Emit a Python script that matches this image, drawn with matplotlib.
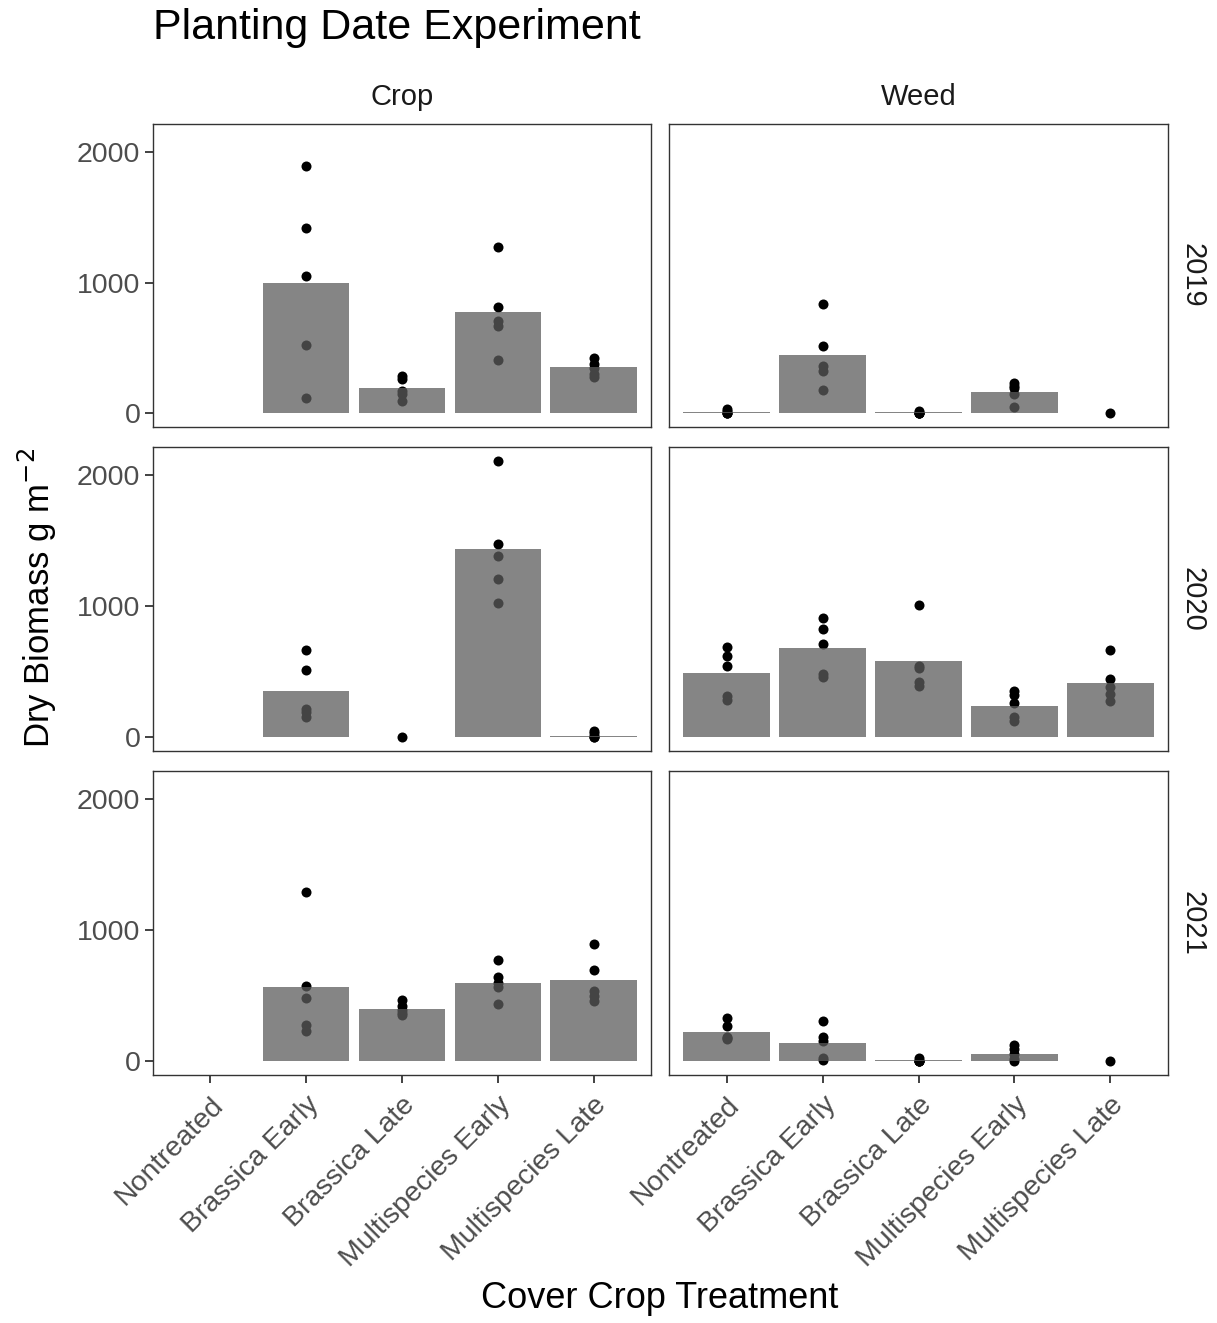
import numpy as np
import matplotlib
matplotlib.use("Agg")
import matplotlib.pyplot as plt

plt.rcParams["font.family"] = ["Liberation Sans", "DejaVu Sans"]

treatments = ["Nontreated", "Brassica Early", "Brassica Late",
              "Multispecies Early", "Multispecies Late"]
types = ["Crop", "Weed"]
years = ["2019", "2020", "2021"]

# mean dry biomass per treatment (g m-2); None where no bar
crop_2019_mean = [None, 1000, 190, 774, 355]
weed_2019_mean = [10, 444, 6, 162, None]
crop_2020_mean = [None, 349, None, 1438, 12]
weed_2020_mean = [489, 684, 580, 235, 415]
crop_2021_mean = [None, 570, 397, 595, 618]
weed_2021_mean = [226, 137, 6, 56, None]

# individual plot observations per treatment
crop_2019_obs = [[], [1891, 1419, 1048, 523, 119], [283, 265, 170, 150, 94],
                 [1272, 812, 706, 665, 406], [424, 380, 345, 300, 275]]
weed_2019_obs = [[30, 15, 5, 0, 0], [840, 515, 365, 322, 180], [20, 5, 0, 0, 0],
                 [234, 208, 195, 145, 51], [0]]
crop_2020_obs = [[], [668, 511, 215, 190, 152], [0],
                 [2111, 1473, 1385, 1208, 1023], [45, 30, 10, 0, 0]]
weed_2020_obs = [[691, 618, 542, 311, 286], [914, 830, 709, 486, 456],
                 [1013, 542, 527, 423, 390], [349, 324, 263, 152, 122],
                 [666, 441, 385, 329, 278]]
crop_2021_obs = [[], [1293, 573, 486, 280, 229], [465, 420, 390, 370, 355],
                 [774, 641, 600, 565, 435], [896, 697, 534, 500, 463]]
weed_2021_obs = [[333, 265, 183, 180, 170], [308, 188, 158, 25, 10],
                 [25, 5, 0, 0, 0], [122, 94, 56, 18, 0], [0]]

means = {("2019", "Crop"): crop_2019_mean, ("2019", "Weed"): weed_2019_mean,
         ("2020", "Crop"): crop_2020_mean, ("2020", "Weed"): weed_2020_mean,
         ("2021", "Crop"): crop_2021_mean, ("2021", "Weed"): weed_2021_mean}
obs = {("2019", "Crop"): crop_2019_obs, ("2019", "Weed"): weed_2019_obs,
       ("2020", "Crop"): crop_2020_obs, ("2020", "Weed"): weed_2020_obs,
       ("2021", "Crop"): crop_2021_obs, ("2021", "Weed"): weed_2021_obs}

W, H = 1217, 1323
fig = plt.figure(figsize=(W / 100, H / 100), dpi=100)

col_x = [(153, 651), (669, 1168)]
row_y = [(124, 427), (447, 751), (771, 1075)]

frame_col = "#333333"
tick_col = "#4d4d4d"

xpos = np.arange(1, len(treatments) + 1)

for r, yr in enumerate(years):
    for c, kind in enumerate(types):
        x0, x1 = col_x[c]
        y0, y1 = row_y[r]
        ax = fig.add_axes([x0 / W, 1 - y1 / H, (x1 - x0) / W, (y1 - y0) / H])

        # points sit under the translucent bars
        for i, vals in enumerate(obs[(yr, kind)]):
            if vals:
                ax.scatter([xpos[i]] * len(vals), vals, s=52, color="black",
                           zorder=2, linewidths=0)
        heights = [m if m is not None else 0 for m in means[(yr, kind)]]
        ax.bar(xpos, heights, width=0.9, color="#5c5c5c", alpha=0.75,
               zorder=3, linewidth=0)

        ax.set_xlim(0.4, 5.6)
        ax.set_ylim(-105.5, 2216.5)
        ax.set_yticks([0, 1000, 2000])
        ax.set_xticks(xpos)
        for sp in ax.spines.values():
            sp.set_color(frame_col)
            sp.set_linewidth(1.0)
        ax.tick_params(colors=frame_col, length=6, width=1.3, pad=3,
                       labelcolor=tick_col, labelsize=20.5)

        if c == 0:
            ax.set_yticklabels(["0", "1000", "2000"])
        else:
            ax.tick_params(axis="y", length=0, labelleft=False)

        if r == len(years) - 1:
            ax.set_xticklabels(treatments, rotation=45, ha="right",
                               va="top", rotation_mode="anchor")
            ax.tick_params(axis="x", pad=6)
        else:
            ax.tick_params(axis="x", length=0, labelbottom=False)

        if r == 0:
            ax.text(0.5, 1.0 + 27 / (y1 - y0), kind, transform=ax.transAxes,
                    ha="center", va="center", fontsize=21, color="#1a1a1a")
        if c == 1:
            ax.text(1.0 + 24 / (x1 - x0), 0.5, yr, transform=ax.transAxes,
                    ha="center", va="center", rotation=-90, fontsize=21,
                    color="#1a1a1a")

fig.text(153 / W, 1 - 28 / H, "Planting Date Experiment", fontsize=31,
         ha="left", va="center", color="black")
fig.text(660 / W, 1 - 1298 / H, "Cover Crop Treatment", fontsize=26,
         ha="center", va="center", color="black")
fig.text(37 / W, 1 - 598 / H, r"Dry Biomass g m$^{-2}$", fontsize=25,
         ha="center", va="center", rotation=90, color="black")

fig.savefig("out.png", dpi=100)
